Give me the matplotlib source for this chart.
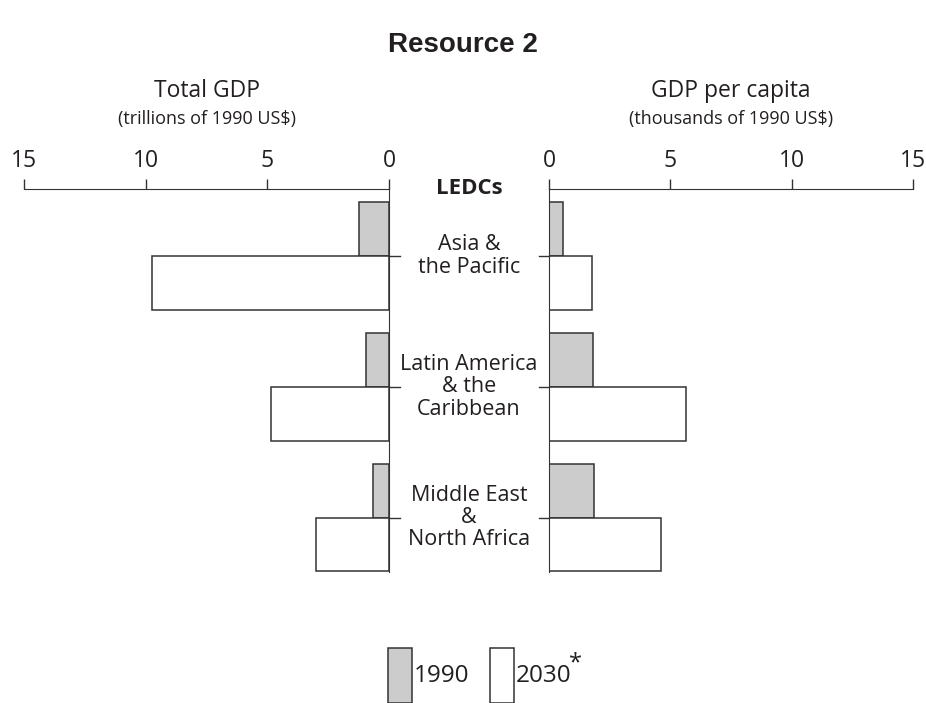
import matplotlib
matplotlib.use("Agg")
import matplotlib.pyplot as plt
from matplotlib.patches import Rectangle
from matplotlib.transforms import blended_transform_factory

# Datos
regiones = ["Asia &\nthe Pacific", "Latin America\n& the\nCaribbean", "Middle East\n&\nNorth Africa"]
pib_total_1990 = [1.25, 0.95, 0.65]
pib_total_2030 = [9.75, 4.85, 3.0]
pib_pc_1990 = [0.56, 1.8, 1.85]
pib_pc_2030 = [1.78, 5.66, 4.6]
ticks = [0, 5, 10, 15]

W, H = 926, 703
plt.rcParams['font.family'] = ['Open Sans', 'DejaVu Sans']
fig = plt.figure(figsize=(W / 100, H / 100), dpi=100)

def fx(px):
    return px / W

def fy(py):
    return 1 - py / H

top, bot = 189, 572
h_bar = 0.41
ax_l = fig.add_axes([fx(24.3), fy(bot), fx(389 - 24.3), (bot - top) / H])
ax_r = fig.add_axes([fx(549), fy(bot), fx(913.3 - 549), (bot - top) / H])

pos = list(range(len(regiones)))
color_linea = '#333333'
color_texto = '#231f20'
for ax, v90, v30 in [(ax_l, pib_total_1990, pib_total_2030), (ax_r, pib_pc_1990, pib_pc_2030)]:
    ax.barh([p - h_bar for p in pos], v90, height=h_bar, align='edge',
            color='#cccccc', edgecolor=color_linea, linewidth=1.1)
    ax.barh(pos, v30, height=h_bar, align='edge',
            color='white', edgecolor=color_linea, linewidth=1.1)
    ax.set_ylim(2.415, -0.513)
    ax.set_yticks([])
    ax.set_xticks(ticks)
    ax.xaxis.tick_top()
    ax.tick_params(axis='x', direction='out', length=7.5, width=1, color=color_linea,
                   labelsize=16.5, pad=4, labelcolor=color_texto)
    for s in ['bottom', 'left', 'right', 'top']:
        ax.spines[s].set_visible(False)
    ax.spines['top'].set_visible(True)
    ax.spines['top'].set_color(color_linea)
    ax.patch.set_visible(False)

ax_l.set_xlim(15, 0)
ax_r.set_xlim(0, 15)
ax_l.spines['right'].set_visible(True)
ax_l.spines['right'].set_color(color_linea)
ax_r.spines['left'].set_visible(True)
ax_r.spines['left'].set_color(color_linea)

# marcas cortas entre grupos
for p in pos:
    ax_l.plot([0, -0.45], [p, p], color=color_linea, lw=1, clip_on=False)
    ax_r.plot([0, -0.4], [p, p], color=color_linea, lw=1, clip_on=False)

# etiquetas de regiones
tr = blended_transform_factory(fig.transFigure, ax_l.transData)
for p, r in zip(pos, regiones):
    ax_l.text(fx(469), p, r, transform=tr, ha='center', va='center',
              fontsize=15.5, linespacing=1.08, color=color_texto)
ax_l.text(fx(469), -0.513, 'LEDCs', transform=tr, ha='center', va='center',
          fontsize=16, fontweight='bold', color=color_texto)

# títulos
fig.text(0.5, fy(45), 'Resource 2', ha='center', va='center', fontsize=20,
         fontweight='bold', family='Liberation Sans', color=color_texto)
fig.text(fx(206.5), fy(91), 'Total GDP', ha='center', va='center', fontsize=16.5, color=color_texto)
fig.text(fx(206.5), fy(119), '(trillions of 1990 US$)', ha='center', va='center', fontsize=13, color=color_texto)
fig.text(fx(731), fy(91), 'GDP per capita', ha='center', va='center', fontsize=16.5, color=color_texto)
fig.text(fx(731), fy(119), '(thousands of 1990 US$)', ha='center', va='center', fontsize=13, color=color_texto)

# leyenda
for x0, c, lab in [(388, '#cccccc', '1990'), (490, 'white', '2030')]:
    fig.add_artist(Rectangle((fx(x0), fy(703)), fx(24), (703 - 648) / H,
                             transform=fig.transFigure, facecolor=c,
                             edgecolor=color_linea, linewidth=1.1))
    fig.text(fx(x0 + 26), fy(676), lab, ha='left', va='center', fontsize=17.5, color=color_texto)
fig.text(fx(569), fy(663), '*', ha='left', va='center', fontsize=17, color=color_texto)

fig.savefig('out.png', dpi=100)
